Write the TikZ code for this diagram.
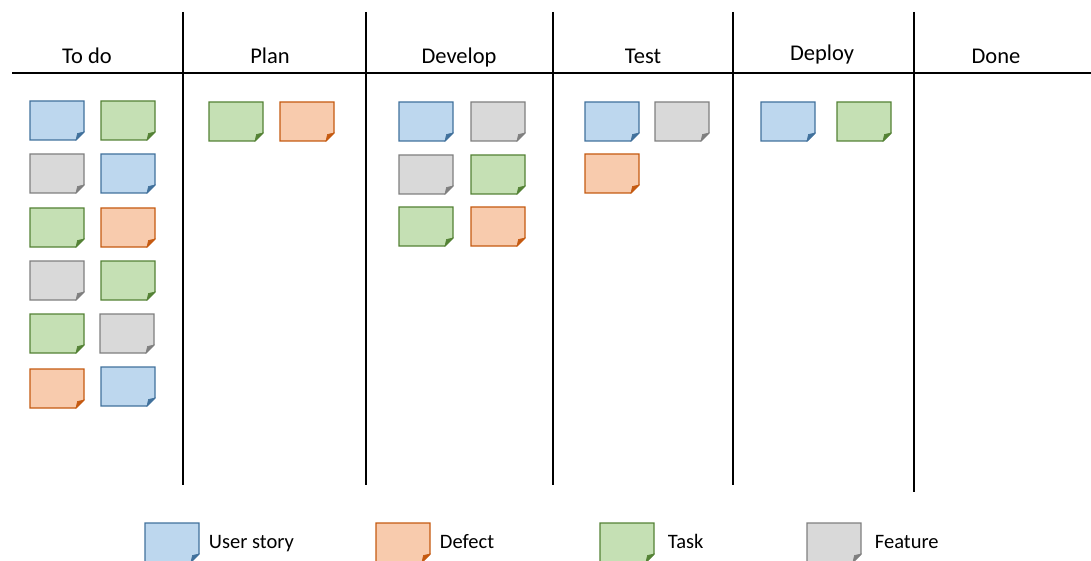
\documentclass[tikz,border=0pt]{standalone}
\usepackage{fontspec}
\setmainfont{Carlito}
\definecolor{bluefill}{RGB}{189,215,238}
\definecolor{blueline}{RGB}{65,113,156}
\definecolor{greenfill}{RGB}{197,224,180}
\definecolor{greenline}{RGB}{84,130,53}
\definecolor{orangefill}{RGB}{248,203,173}
\definecolor{orangeline}{RGB}{197,90,17}
\definecolor{grayfill}{RGB}{217,217,217}
\definecolor{grayline}{RGB}{127,127,127}
% sticky note: #1 = name, #2 = top left corner, #3 = colour prefix
\newcommand{\sticky}[3]{%
  \coordinate (#1) at (#2);
  \filldraw[fill=#3fill,draw=#3line,line width=1.4pt,line join=miter]
    (#1) -- ++(54,0) -- ++(0,31) -- ++(-8,8) -- ++(-46,0) -- cycle;
  \filldraw[fill=#3line,draw=#3line,line width=0.6pt,line join=miter]
    ($(#1)+(54,31)$) -- ($(#1)+(46,39)$) -- ($(#1)+(47.5,32.5)$) -- cycle;
}
\usetikzlibrary{calc}
\tikzset{heading/.style={anchor=base,font=\fontsize{22.5}{26}\selectfont},
  legendtext/.style={anchor=base west,font=\fontsize{20.5}{24}\selectfont}}
\begin{document}
\begin{tikzpicture}[x=1pt,y=-1pt,line width=1.3pt]
  \useasboundingbox (0,0) rectangle (1091,561);
%%
  % Board lines
  \draw (12,73) -- (1091,73);
  \foreach \xx in {183,366,553,733}
    \draw (\xx,12) -- (\xx,485);
  \draw (914,12) -- (914,492);
  % Column headings
  \node[heading] (todo) at (87,64) {To do};
  \node[heading] (plan) at (270,64) {Plan};
  \node[heading] (develop) at (459,64) {Develop};
  \node[heading] (test) at (643,64) {Test};
  \node[heading] (deploy) at (822,61) {Deploy};
  \node[heading] (done) at (996,64) {Done};
  % Notes: To do
  \sticky{td1}{30,101}{blue}   \sticky{td2}{101,101}{green}
  \sticky{td3}{30,154}{gray}   \sticky{td4}{101,154}{blue}
  \sticky{td5}{30,208}{green}  \sticky{td6}{101,208}{orange}
  \sticky{td7}{30,261}{gray}   \sticky{td8}{101,261}{green}
  \sticky{td9}{30,314}{green}  \sticky{td10}{100,314}{gray}
  \sticky{td11}{30,369}{orange} \sticky{td12}{101,367}{blue}
  % Notes: Plan
  \sticky{pl1}{209,102}{green} \sticky{pl2}{280,102}{orange}
  % Notes: Develop
  \sticky{dv1}{399,102}{blue}  \sticky{dv2}{471,102}{gray}
  \sticky{dv3}{399,155}{gray}  \sticky{dv4}{471,155}{green}
  \sticky{dv5}{399,207}{green} \sticky{dv6}{471,207}{orange}
  % Notes: Test
  \sticky{ts1}{585,102}{blue}  \sticky{ts2}{655,102}{gray}
  \sticky{ts3}{585,154}{orange}
  % Notes: Deploy
  \sticky{dp1}{761,102}{blue}  \sticky{dp2}{837,102}{green}
  % Legend
  \sticky{lg1}{145,523}{blue}
  \node[legendtext] (lgt1) at (205,548) {User story};
  \sticky{lg2}{376,523}{orange}
  \node[legendtext] (lgt2) at (436,548) {Defect};
  \sticky{lg3}{600,523}{green}
  \node[legendtext] (lgt3) at (664,548) {Task};
  \sticky{lg4}{807,523}{gray}
  \node[legendtext] (lgt4) at (871,548) {Feature};
%
\end{tikzpicture}
\end{document}
